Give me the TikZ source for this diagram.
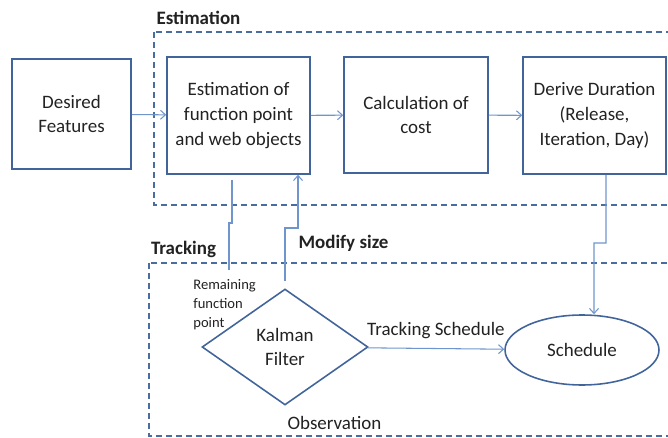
\documentclass[tikz,border=0pt]{standalone}
\usepackage{fontspec}
\setmainfont{Carlito}
\usetikzlibrary{shapes.geometric,arrows.meta}

\definecolor{boxblue}{HTML}{41659A}
\definecolor{linkblue}{HTML}{6F95CC}
\definecolor{dashblue}{HTML}{4A6DA0}
\definecolor{textgray}{HTML}{222222}

\tikzset{
  stagebox/.style={draw=boxblue, line width=0.9pt, text=textgray, align=center,
    inner sep=0pt, font=\fontsize{10.8}{14.2}\selectfont},
  region/.style={draw=dashblue, line width=0.9pt, dash pattern=on 0.12cm off 0.08cm},
  link/.style={draw=linkblue, line width=0.6pt},
  tag/.style={text=textgray, font=\fontsize{10.8}{14.2}\selectfont},
  smalltag/.style={text=textgray, font=\fontsize{8.3}{11}\selectfont, align=left, inner sep=0pt},
  >={Straight Barb[length=0.1cm,width=0.18cm]}
}

\begin{document}
\begin{tikzpicture}[x=0.02cm, y=-0.02cm]

  % Page frame
  \useasboundingbox (0,0) rectangle (668,438);
  \clip (0,0) rectangle (668,438);

  % Dashed regions
  \draw[region] (154,32) rectangle (700,205);
  \draw[region] (149,263) rectangle (700,436);

  % Region labels
  \node[tag] (estLabel) at (198.5,18) {\textbf{Estimation}};
  \node[tag] (trackLabel) at (183.5,249) {\textbf{Tracking}};
  \node[tag] (modLabel) at (343.5,243) {\textbf{Modify size}};
  \node[tag] (obsLabel) at (334.5,423) {Observation};

  % Estimation chain
  \node[stagebox, minimum width=2.38cm, minimum height=2.2cm] (feat) at (71.5,114) {Desired\\Features};
  \node[stagebox, minimum width=2.86cm, minimum height=2.34cm] (estim) at (238.5,115.5) {Estimation of\\function point\\and web objects};
  \node[stagebox, minimum width=2.88cm, minimum height=2.32cm] (cost) at (416,115) {Calculation of\\cost};
  \node[stagebox, minimum width=2.86cm, minimum height=2.34cm] (dur) at (594.5,115.5) {Derive Duration\\(Release,\\Iteration, Day)};

  \draw[link, ->] (feat) -- (estim);
  \draw[link, ->] (estim) -- (cost);
  \draw[link, ->] (cost) -- (dur);

  % Tracking part
  \node[stagebox, diamond, minimum width=3.32cm, minimum height=2.32cm] (kalman) at (285,347) {Kalman\\Filter};
  \node[stagebox, ellipse, minimum width=3.08cm, minimum height=1.4cm] (sched) at (582,350) {Schedule};
  \node[smalltag, anchor=west] (remLabel) at (193,304.5) {Remaining\\function\\point};

  \draw[link, ->] (kalman) -- node[tag, midway, above=0.19cm, inner sep=0pt] (trackSched) {Tracking Schedule} (sched);

  % Feedback lines
  \coordinate (rfpTop) at (232,180);
  \coordinate (rfpEnd) at (229,270);
  \draw[link] (rfpTop) -- (232,223) -- (229,223) -- (rfpEnd);

  \coordinate (modJog) at (298,228);
  \draw[link, ->] ([yshift=0.14cm]kalman.north) |- (modJog) -- (estim.south -| modJog);

  \coordinate (durJog) at (606,243);
  \draw[link, ->] (dur.south -| durJog) -- (durJog) -- (594,243) -- ([xshift=0.24cm]sched.north);

\end{tikzpicture}
\end{document}
